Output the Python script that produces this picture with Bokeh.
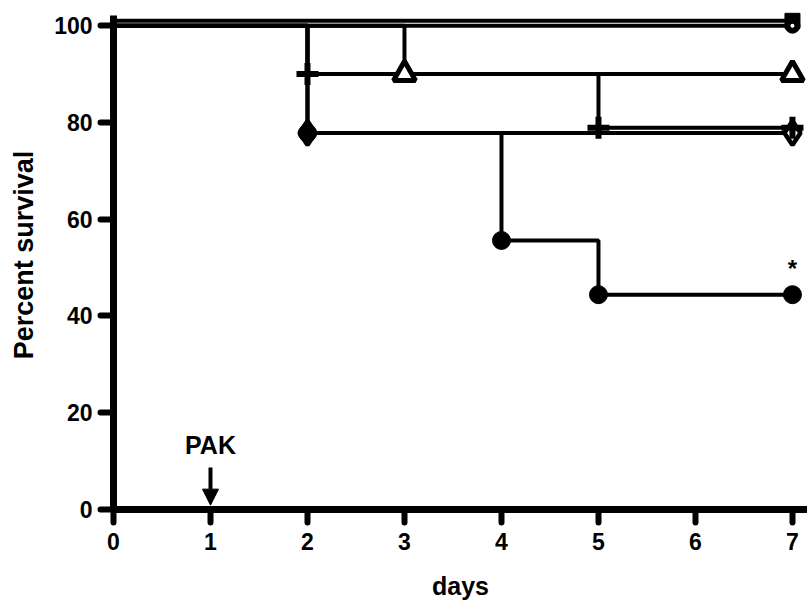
import math
from bokeh.plotting import figure
from bokeh.models import Label, Arrow, NormalHead, Range1d, FixedTicker
from bokeh.embed import file_html
from bokeh.resources import INLINE

# ---- data -------------------------------------------------------------
X_TICKS = [0, 1, 2, 3, 4, 5, 6, 7]
Y_TICKS = [0, 20, 40, 60, 80, 100]

SQUARE_DAYS = [0, 7]
SQUARE_SURV = [100, 100]
OPEN_DAYS = [0, 7]
OPEN_SURV = [100, 100]
TRI_DAYS = [0, 3, 7]
TRI_SURV = [100, 90, 90]
PLUS_DAYS = [0, 2, 5, 7]
PLUS_SURV = [100, 90, 78.9, 78.9]
DIAM_DAYS = [0, 2, 7]
DIAM_SURV = [100, 77.8, 77.8]
CIRC_DAYS = [0, 2, 4, 5, 7]
CIRC_SURV = [100, 77.8, 55.6, 44.4, 44.4]

TREATMENT_DAY = 1
TREATMENT_LABEL = "PAK"
SIG_LABEL = "*"
X_LABEL = "days"
Y_LABEL = "Percent survival"

# ---- style ------------------------------------------------------------
FONT = "Liberation Sans"
SQUARE_DODGE = 1.0  # visual offset of the overlapping 100 % line
LW = 4
X_END = 7.155
Y_END = 105.2

p = figure(width=807, height=606,
           x_range=Range1d(0, X_END), y_range=Range1d(0, Y_END),
           output_backend="svg", toolbar_location=None,
           min_border_left=113, min_border_right=0,
           min_border_top=0, min_border_bottom=97)
p.outline_line_color = None
p.grid.visible = False
p.background_fill_color = "white"
p.border_fill_color = "white"

p.xaxis.ticker = FixedTicker(ticks=X_TICKS)
p.yaxis.ticker = FixedTicker(ticks=Y_TICKS)
p.xaxis.bounds = (0, X_END)
p.yaxis.bounds = (0, 102.2)
for ax in (p.xaxis[0], p.yaxis[0]):
    ax.axis_line_width = 7
    ax.axis_line_color = "black"
    ax.major_tick_line_width = 6
    ax.major_tick_line_color = "black"
    ax.major_tick_line_cap = "round"
    ax.major_tick_out = 13
    ax.major_tick_in = 0
    ax.minor_tick_line_color = None
    ax.major_label_text_font = FONT
    ax.major_label_text_font_style = "bold"
    ax.major_label_text_font_size = "23px"
    ax.major_label_text_color = "black"
    ax.axis_label_text_font = FONT
    ax.axis_label_text_font_style = "bold"
    ax.axis_label_text_color = "black"
p.xaxis.major_label_standoff = 10
p.yaxis.major_label_standoff = 8
p.xaxis.axis_label = X_LABEL
p.xaxis.axis_label_text_font_size = "25px"
p.xaxis.axis_label_standoff = 19
p.yaxis.axis_label = Y_LABEL
p.yaxis.axis_label_text_font_size = "27px"
p.yaxis.axis_label_standoff = 12

def steps(days, surv, dodge=0.0):
    p.step(list(days), [s + dodge for s in surv], mode="after",
           line_width=LW, line_color="black")

steps(SQUARE_DAYS, SQUARE_SURV, SQUARE_DODGE)
steps(OPEN_DAYS, OPEN_SURV)
steps(TRI_DAYS, TRI_SURV)
steps(PLUS_DAYS, PLUS_SURV)
steps(DIAM_DAYS, DIAM_SURV)
steps(CIRC_DAYS, CIRC_SURV)

# markers at every event and at the end of each curve
p.scatter(DIAM_DAYS[1:], DIAM_SURV[1:], marker="diamond", size=24,
          fill_color="white", line_color="black", line_width=4.5)
p.scatter(PLUS_DAYS[1:], PLUS_SURV[1:], marker="cross", size=22,
          line_color="black", line_width=6)
p.scatter(TRI_DAYS[1:], TRI_SURV[1:], marker="triangle", size=22,
          fill_color="white", line_color="black", line_width=5)
p.scatter(CIRC_DAYS[1:], CIRC_SURV[1:], marker="circle", size=18,
          fill_color="black", line_color="black")
p.scatter(OPEN_DAYS[1:], OPEN_SURV[1:], marker="circle", size=15,
          fill_color="black", line_color="black")
p.scatter(SQUARE_DAYS[1:], [s + SQUARE_DODGE for s in SQUARE_SURV[1:]],
          marker="square", size=15, fill_color="black", line_color="black",
          line_width=1)
p.scatter(OPEN_DAYS[1:], OPEN_SURV[1:], marker="circle", size=4,
          fill_color="white", line_color=None)

# treatment arrow
p.add_layout(Arrow(x_start=TREATMENT_DAY, y_start=8.7, x_end=TREATMENT_DAY, y_end=0.9,
                   line_width=4, line_color="black",
                   end=NormalHead(size=16, fill_color="black", line_color="black",
                                  line_width=1)))
p.add_layout(Label(x=TREATMENT_DAY, y=13.3, text=TREATMENT_LABEL,
                   text_font=FONT, text_font_style="bold", text_font_size="25px",
                   text_align="center", text_baseline="middle", text_color="black"))
p.add_layout(Label(x=CIRC_DAYS[-1], y=CIRC_SURV[-1] + 5.5, text=SIG_LABEL,
                   text_font=FONT, text_font_style="bold", text_font_size="24px",
                   text_align="center", text_baseline="middle", text_color="black"))

open("out.html", "w").write(file_html(p, INLINE))
